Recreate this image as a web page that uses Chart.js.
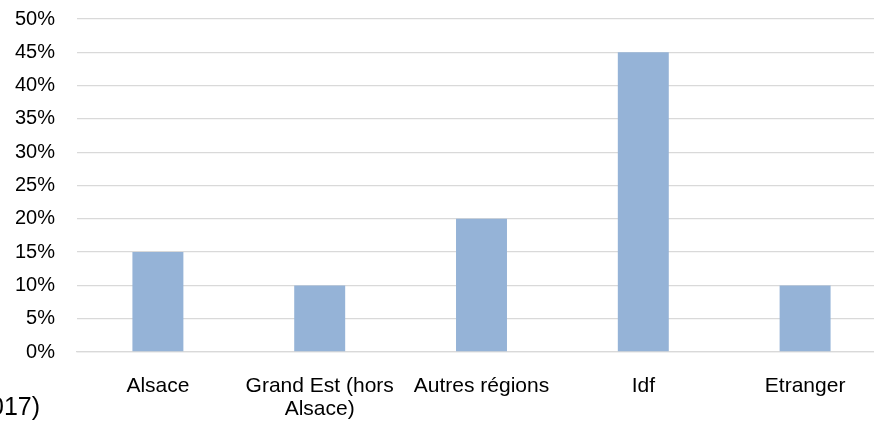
<!doctype html>
<html lang="fr">
<head>
<meta charset="utf-8">
<title>Répartition par origine</title>
<script src="https://cdn.jsdelivr.net/npm/chart.js@4.4.0/dist/chart.umd.min.js"></script>
<style>
  html, body { margin: 0; padding: 0; background: #fff; }
  .wrap { position: relative; width: 874px; height: 430px; overflow: hidden; }
  .note { position: absolute; left: -10px; top: 394px; font: 25px/25px "Liberation Sans", Arial, sans-serif; color: #000; }
  canvas { display: block; }
</style>
</head>
<body>
<div class="wrap">
  <!-- canvas is a bit wider than the frame: the plot runs past its right edge -->
  <canvas id="chart" width="886" height="430"></canvas>
  <div class="note">017)</div>
</div>
<script>
// categories and shares (%)
const categories = ['Alsace', ['Grand Est (hors', 'Alsace)'], 'Autres régions', 'Idf', 'Etranger'];
const shares = [15, 10, 20, 45, 10];
const yMax = 50;
const yStep = 5;

const family = '"Liberation Sans", Arial, sans-serif';

new Chart(document.getElementById('chart'), {
  type: 'bar',
  data: {
    labels: categories,
    datasets: [{
      data: shares,
      backgroundColor: '#95b3d7',
      borderWidth: 0,
      barPercentage: 0.315,
      categoryPercentage: 1.0,
    }]
  },
  options: {
    responsive: false,
    animation: false,
    layout: { padding: { top: 19, right: 0, left: 0, bottom: 0 } },
    plugins: { legend: { display: false }, tooltip: { enabled: false } },
    scales: {
      x: {
        grid: { display: false },
        border: { color: '#d9d9d9', width: 1.3 },
        ticks: {
          color: '#000', padding: 15, maxRotation: 0, autoSkip: false,
          font: { family, size: 21, lineHeight: '23px' },
        },
        afterFit: s => { s.height = 78; s.paddingLeft = 0; s.paddingRight = 0; },
      },
      y: {
        min: 0, max: yMax,
        grid: { color: '#d9d9d9', lineWidth: 1.3, drawTicks: false },
        border: { display: false },
        ticks: {
          stepSize: yStep, color: '#000', padding: 22,
          font: { family, size: 20 },
          callback: v => v + '%',
        },
        afterFit: s => { s.width = 77; s.paddingTop = 0; s.paddingBottom = 0; },
      }
    }
  }
});
</script>
</body>
</html>
